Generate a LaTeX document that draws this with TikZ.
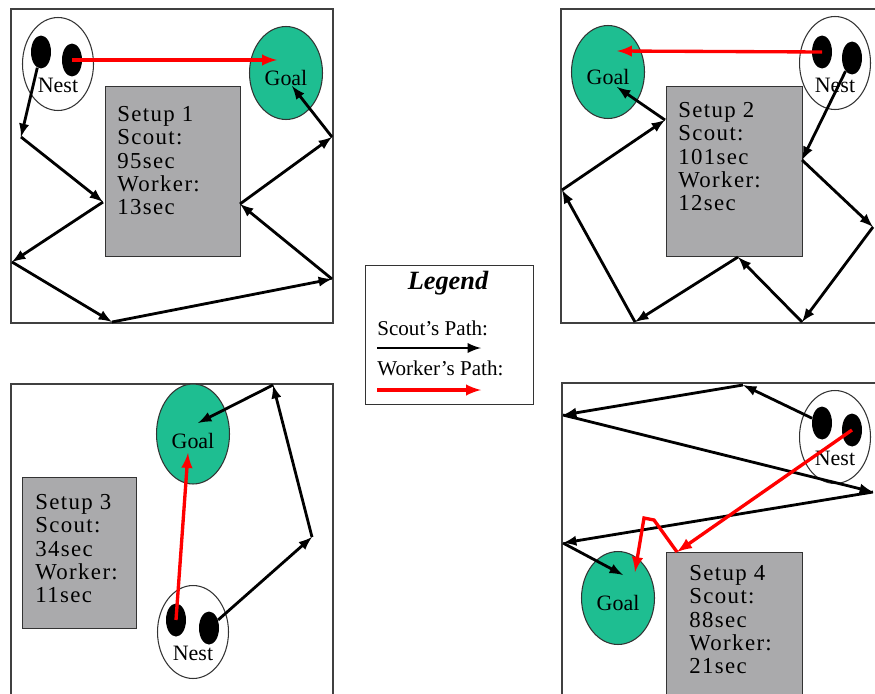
\documentclass[tikz,border=0pt]{standalone}
\usepackage{fontspec}
\setmainfont{Liberation Serif}
\newfontfamily\setupfont[LetterSpace=6]{Liberation Serif}
\usetikzlibrary{shapes.geometric}

\definecolor{goalgreen}{RGB}{30,190,145}
\definecolor{setupgray}{RGB}{170,170,172}

\tikzset{
  panel/.style={draw=black!75, line width=0.8pt},
  nest/.style={ellipse, draw=black!80, fill=white, line width=0.6pt,
    minimum width=1.42cm, minimum height=1.86cm, inner sep=0pt},
  goal/.style={ellipse, draw=black!80, fill=goalgreen, line width=0.6pt,
    minimum width=1.46cm, minimum height=1.86cm, inner sep=0pt},
  ant/.style={ellipse, fill=black, minimum width=0.4cm, minimum height=0.66cm, inner sep=0pt},
  setup/.style={draw=black!80, fill=setupgray, line width=0.6pt, anchor=north west, inner sep=0pt},
  setuptext/.style={anchor=north west, align=left, inner sep=0pt, font=\setupfont\fontsize{13}{13.3}\selectfont},
  lbl/.style={font=\fontsize{12.5}{14}\selectfont, inner sep=0pt},
  scout/.style={-latex, line width=1.6pt},
  worker/.style={-latex, red, line width=1.9pt}
}

\begin{document}
\begin{tikzpicture}[x=0.02cm, y=-0.02cm]
  \useasboundingbox (0,0) rectangle (875,693);

  % frames of the four runs
  \draw[panel] (11,9) rectangle (333,323);
  \draw[panel] (561,9) rectangle (885,323);
  \draw[panel] (11,384) rectangle (333,705);
  \draw[panel] (562,383) rectangle (885,705);

  % setup 1
  \node[setup, minimum width=2.7cm, minimum height=3.4cm] (setup1) at (105,86) {};
  \node[setuptext] (info1) at ([shift={(12,20)}]setup1.north west) {Setup 1\\Scout:\\95sec\\Worker:\\13sec};
  \node[nest, label={[lbl, yshift=-12pt]center:Nest}] (nest1) at (58,64) {};
  \node[goal, label={[lbl, yshift=-3pt]center:Goal}] (goal1) at (286,73) {};
  \node[ant] (ant1a) at (41,52) {};
  \node[ant] (ant1b) at (72,60) {};
  \coordinate (a1) at (21,137);
  \coordinate (a2) at (103,202);
  \coordinate (a3) at (12,262);
  \coordinate (a4) at (112,322);
  \coordinate (a5) at (332,279);
  \coordinate (a6) at (240,204);
  \coordinate (a7) at (332,137);
  \coordinate (a8) at (292,86);
  \coordinate (w1) at (277,60);
  \foreach \from/\to in {ant1a/a1, a1/a2, a2/a3, a3/a4, a4/a5, a5/a6, a6/a7, a7/a8}
    \draw[scout] (\from) -- (\to);
  \draw[worker] (ant1b.center) -- (w1);

  % setup 2
  \node[setup, minimum width=2.72cm, minimum height=3.4cm] (setup2) at (666,86) {};
  \node[setuptext] (info2) at ([shift={(12,16)}]setup2.north west) {Setup 2\\Scout:\\101sec\\Worker:\\12sec};
  \node[goal, label={[lbl, yshift=-3pt]center:Goal}] (goal2) at (608,72) {};
  \node[nest, label={[lbl, yshift=-13pt]center:Nest}] (nest2) at (835,63) {};
  \node[ant] (ant2a) at (822,52) {};
  \node[ant] (ant2b) at (852,58) {};
  \coordinate (b1) at (802,160);
  \coordinate (b2) at (873,227);
  \coordinate (b3) at (802,322);
  \coordinate (b4) at (738,257);
  \coordinate (b5) at (635,322);
  \coordinate (b6) at (562,190);
  \coordinate (b7) at (665,120);
  \coordinate (b8) at (617,87);
  \coordinate (w2) at (617,51);
  \foreach \from/\to in {ant2b/b1, b1/b2, b2/b3, b3/b4, b4/b5, b5/b6, b6/b7, b7/b8}
    \draw[scout] (\from) -- (\to);
  \draw[worker] (ant2a.center) -- (w2);

  % setup 3
  \node[setup, minimum width=2.28cm, minimum height=3.02cm] (setup3) at (22,477) {};
  \node[setuptext] (info3) at ([shift={(13,17)}]setup3.north west) {Setup 3\\Scout:\\34sec\\Worker:\\11sec};
  \node[goal, minimum height=2cm, label={[lbl, yshift=-4pt]center:Goal}] (goal3) at (193,434) {};
  \node[nest, label={[lbl, yshift=-12pt]center:Nest}] (nest3) at (193,632) {};
  \node[ant] (ant3a) at (176,620) {};
  \node[ant] (ant3b) at (209,628) {};
  \coordinate (c1) at (312,537);
  \coordinate (c2) at (273,385);
  \coordinate (c3) at (198,423);
  \coordinate (w3) at (188,453);
  \foreach \from/\to in {ant3b/c1, c1/c2, c2/c3}
    \draw[scout] (\from) -- (\to);
  \draw[worker] (ant3a.center) -- (w3);

  % setup 4
  \node[setup, minimum width=2.72cm, minimum height=3.2cm] (setup4) at (666,552) {};
  \node[setuptext] (info4) at ([shift={(23,13)}]setup4.north west) {Setup 4\\Scout:\\88sec\\Worker:\\21sec};
  \node[goal, label={[lbl, yshift=-3pt]center:Goal}] (goal4) at (618,598) {};
  \node[nest, label={[lbl, yshift=-12pt]center:Nest}] (nest4) at (835,437) {};
  \node[ant] (ant4a) at (822,423) {};
  \node[ant] (ant4b) at (852,430) {};
  \coordinate (d1) at (743,385);
  \coordinate (d2) at (563,415);
  \coordinate (d3) at (873,492);
  \coordinate (d4) at (563,543);
  \coordinate (d5) at (623,575);
  \coordinate (e1) at (677,552);
  \coordinate (e2) at (654,520);
  \coordinate (e3) at (644,518);
  \coordinate (e4) at (635,572);
  \foreach \from/\to in {ant4a/d1, d1/d2, d2/d3, d3/d4, d4/d5}
    \draw[scout] (\from) -- (\to);
  \draw[worker] (ant4b.center) -- (e1);
  \draw[worker] (e1) -- (e2) -- (e3) -- (e4);

  % legend
  \node[draw=black!80, line width=0.6pt, anchor=north west, inner sep=0pt,
    minimum width=3.36cm, minimum height=2.78cm] (legend) at (365,265) {};
  \node[font=\fontsize{15}{18}\selectfont\bfseries\itshape, inner sep=0pt] (legendtitle) at (448,283) {Legend};
  \node[font=\fontsize{12}{14}\selectfont, anchor=west, inner sep=0pt] (scoutkey) at (377,328) {Scout's Path:};
  \node[font=\fontsize{12}{14}\selectfont, anchor=west, inner sep=0pt] (workerkey) at (377,368) {Worker's Path:};
  \coordinate (s0) at (377,348);
  \coordinate (s1) at (481,348);
  \coordinate (r0) at (377,390);
  \coordinate (r1) at (481,390);
  \draw[scout] (s0) -- (s1);
  \draw[worker] (r0) -- (r1);
\end{tikzpicture}
\end{document}
